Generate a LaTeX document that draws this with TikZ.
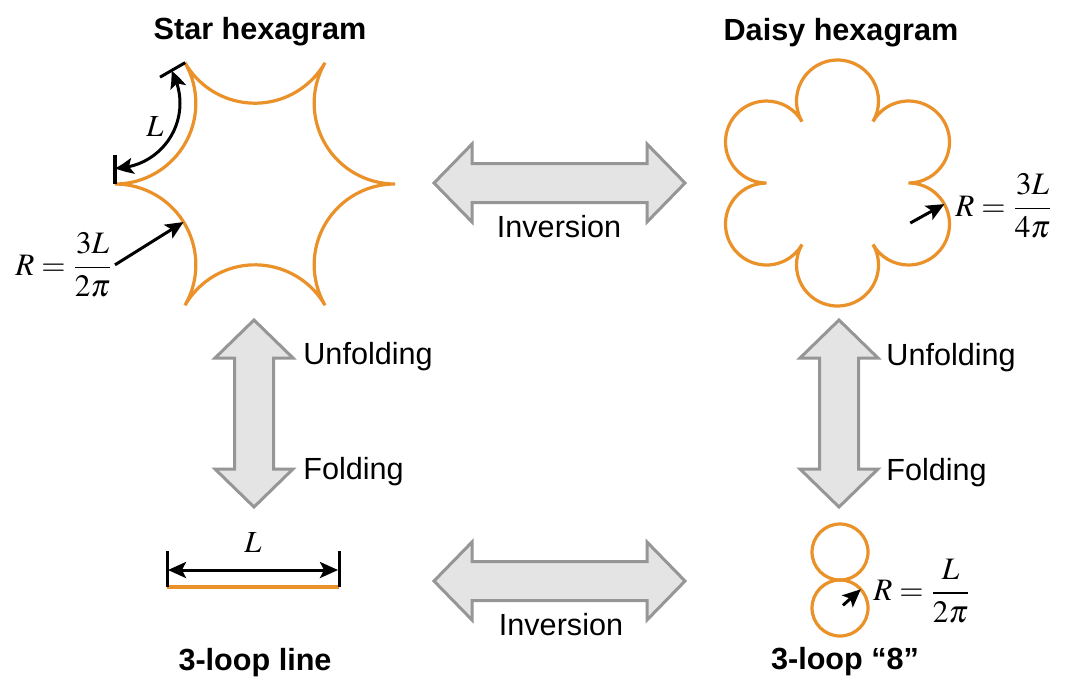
\documentclass[tikz,border=0pt]{standalone}
\usepackage{mathptmx}
\usepackage{fontspec}
\setmainfont{Liberation Sans}
\usetikzlibrary{calc,arrows.meta,bending}
\definecolor{orangec}{RGB}{234,145,42}
\definecolor{arrfill}{RGB}{228,228,228}
\definecolor{arrdraw}{RGB}{150,150,150}
\tikzset{
  orangeline/.style={draw=orangec, line width=1.6pt},
  blk/.style={draw=black, line width=1.5pt},
  tipd/.style={-{Stealth[length=9pt,width=8pt,inset=2pt]}},
  tipdd/.style={{Stealth[length=9pt,width=8pt,inset=2pt,bend]}-{Stealth[length=9pt,width=8pt,inset=2pt,bend]}},
  bigarrow/.style={fill=arrfill, draw=arrdraw, line width=1.5pt, line join=miter},
  lbl/.style={inner sep=0pt, font=\fontsize{15.3}{18}\selectfont},
  ttl/.style={inner sep=0pt, font=\fontsize{15.3}{18}\selectfont\bfseries},
  mth/.style={inner sep=0pt, anchor=west, font=\fontsize{15.6}{18}\selectfont}
}
\begin{document}
\begin{tikzpicture}[x=0.5pt,y=-0.5pt]
\useasboundingbox (0,0) rectangle (1080,687);
\fill[white] (0,0) rectangle (1080,687);

% ---------- Star hexagram ----------
\coordinate (SC) at (255,184);
\draw[orangeline] ($(SC)+(0:140)$)
  \foreach \a in {0,60,...,300} { arc[start angle=\a+270, end angle=\a+150, radius=80.83] } -- cycle;
\coordinate (OL) at ($(SC)+(210:161.66)$);
\draw[blk] ($(OL)+(90:52)$) -- ($(OL)+(90:81)$);
\draw[blk] ($(OL)+(-30:52)$) -- ($(OL)+(-30:81)$);
\draw[blk,tipdd] ($(OL)+(90:65)$) arc[start angle=90, end angle=-30, radius=65];
\node[lbl] (Ls) at (155,127) {$L$};
\coordinate (OR) at ($(SC)+(150:161.66)$);
\coordinate (ORe) at ($(OR)+(-32:80.8)$);
\draw[blk,tipd] (OR) -- (ORe);
\node[mth] (Rs) at (15,265) {$\displaystyle R=\frac{3L}{2\pi}$};
\node[ttl] (Ts) at (260,32) {Star hexagram};

% ---------- Daisy hexagram ----------
\coordinate (DC) at (837.5,183);
\draw[orangeline] ($(DC)+(0:71.01)$)
  \foreach \a in {0,60,...,300} { arc[start angle=\a+270, end angle=\a+510, radius=41] } -- cycle;
\coordinate (OD) at ($(DC)+(30:82)$);
\coordinate (ODs) at ($(OD)+(-29:2)$);
\coordinate (ODe) at ($(OD)+(-29:41)$);
\draw[blk,tipd] (ODs) -- (ODe);
\node[mth] (Rd) at (955,206) {$\displaystyle R=\frac{3L}{4\pi}$};
\node[ttl] (Td) at (841,33) {Daisy hexagram};

% ---------- 3-loop line ----------
\coordinate (LA) at (167,587);
\coordinate (LB) at (339,587);
\draw[draw=orangec, line width=2pt] (LA) -- (LB);
\coordinate (LAt) at (167,551);
\coordinate (LBt) at (339,551);
\draw[blk] (LA) -- (LAt);
\draw[blk] (LB) -- (LBt);
\coordinate (LAm) at (168,570);
\coordinate (LBm) at (338,570);
\draw[blk,tipdd] (LAm) -- (LBm);
\node[lbl] (Ll) at (253,543) {$L$};
\node[ttl] (Tl) at (255,663) {3-loop line};

% ---------- 3-loop 8 ----------
\coordinate (E1) at (840,552);
\coordinate (E2) at (840,608);
\draw[orangeline] (E1) circle[radius=28];
\draw[orangeline] (E2) circle[radius=28];
\coordinate (E2e) at ($(E2)+(-42:28)$);
\coordinate (E2s) at ($(E2)+(-42:4)$);
\draw[blk,tipd] (E2s) -- (E2e);
\node[mth] (R8) at (873,591) {$\displaystyle R=\frac{L}{2\pi}$};
\node[ttl] (T8) at (845,662) {3-loop “8”};

% ---------- big arrows ----------
\draw[bigarrow] (434,183) -- (472,144) -- (472,163.5) -- (647,163.5) -- (647,144) -- (685,183)
  -- (647,222) -- (647,202.5) -- (472,202.5) -- (472,222) -- cycle;
\draw[bigarrow] (434,581) -- (472,542) -- (472,561.5) -- (647,561.5) -- (647,542) -- (685,581)
  -- (647,620) -- (647,600.5) -- (472,600.5) -- (472,620) -- cycle;
\draw[bigarrow] (254,320) -- (293,358) -- (273.5,358) -- (273.5,469) -- (293,469) -- (254,507)
  -- (215,469) -- (234.5,469) -- (234.5,358) -- (215,358) -- cycle;
\draw[bigarrow] (839,320) -- (878,358) -- (858.5,358) -- (858.5,469) -- (878,469) -- (839,507)
  -- (800,469) -- (819.5,469) -- (819.5,358) -- (800,358) -- cycle;

\node[lbl] (I1) at (559,227) {Inversion};
\node[lbl] (I2) at (561,625) {Inversion};
\node[lbl,anchor=west] (U1) at (303,357) {Unfolding};
\node[lbl,anchor=west] (F1) at (303,472) {Folding};
\node[lbl,anchor=west] (U2) at (886,358) {Unfolding};
\node[lbl,anchor=west] (F2) at (886,473) {Folding};
\end{tikzpicture}
\end{document}
